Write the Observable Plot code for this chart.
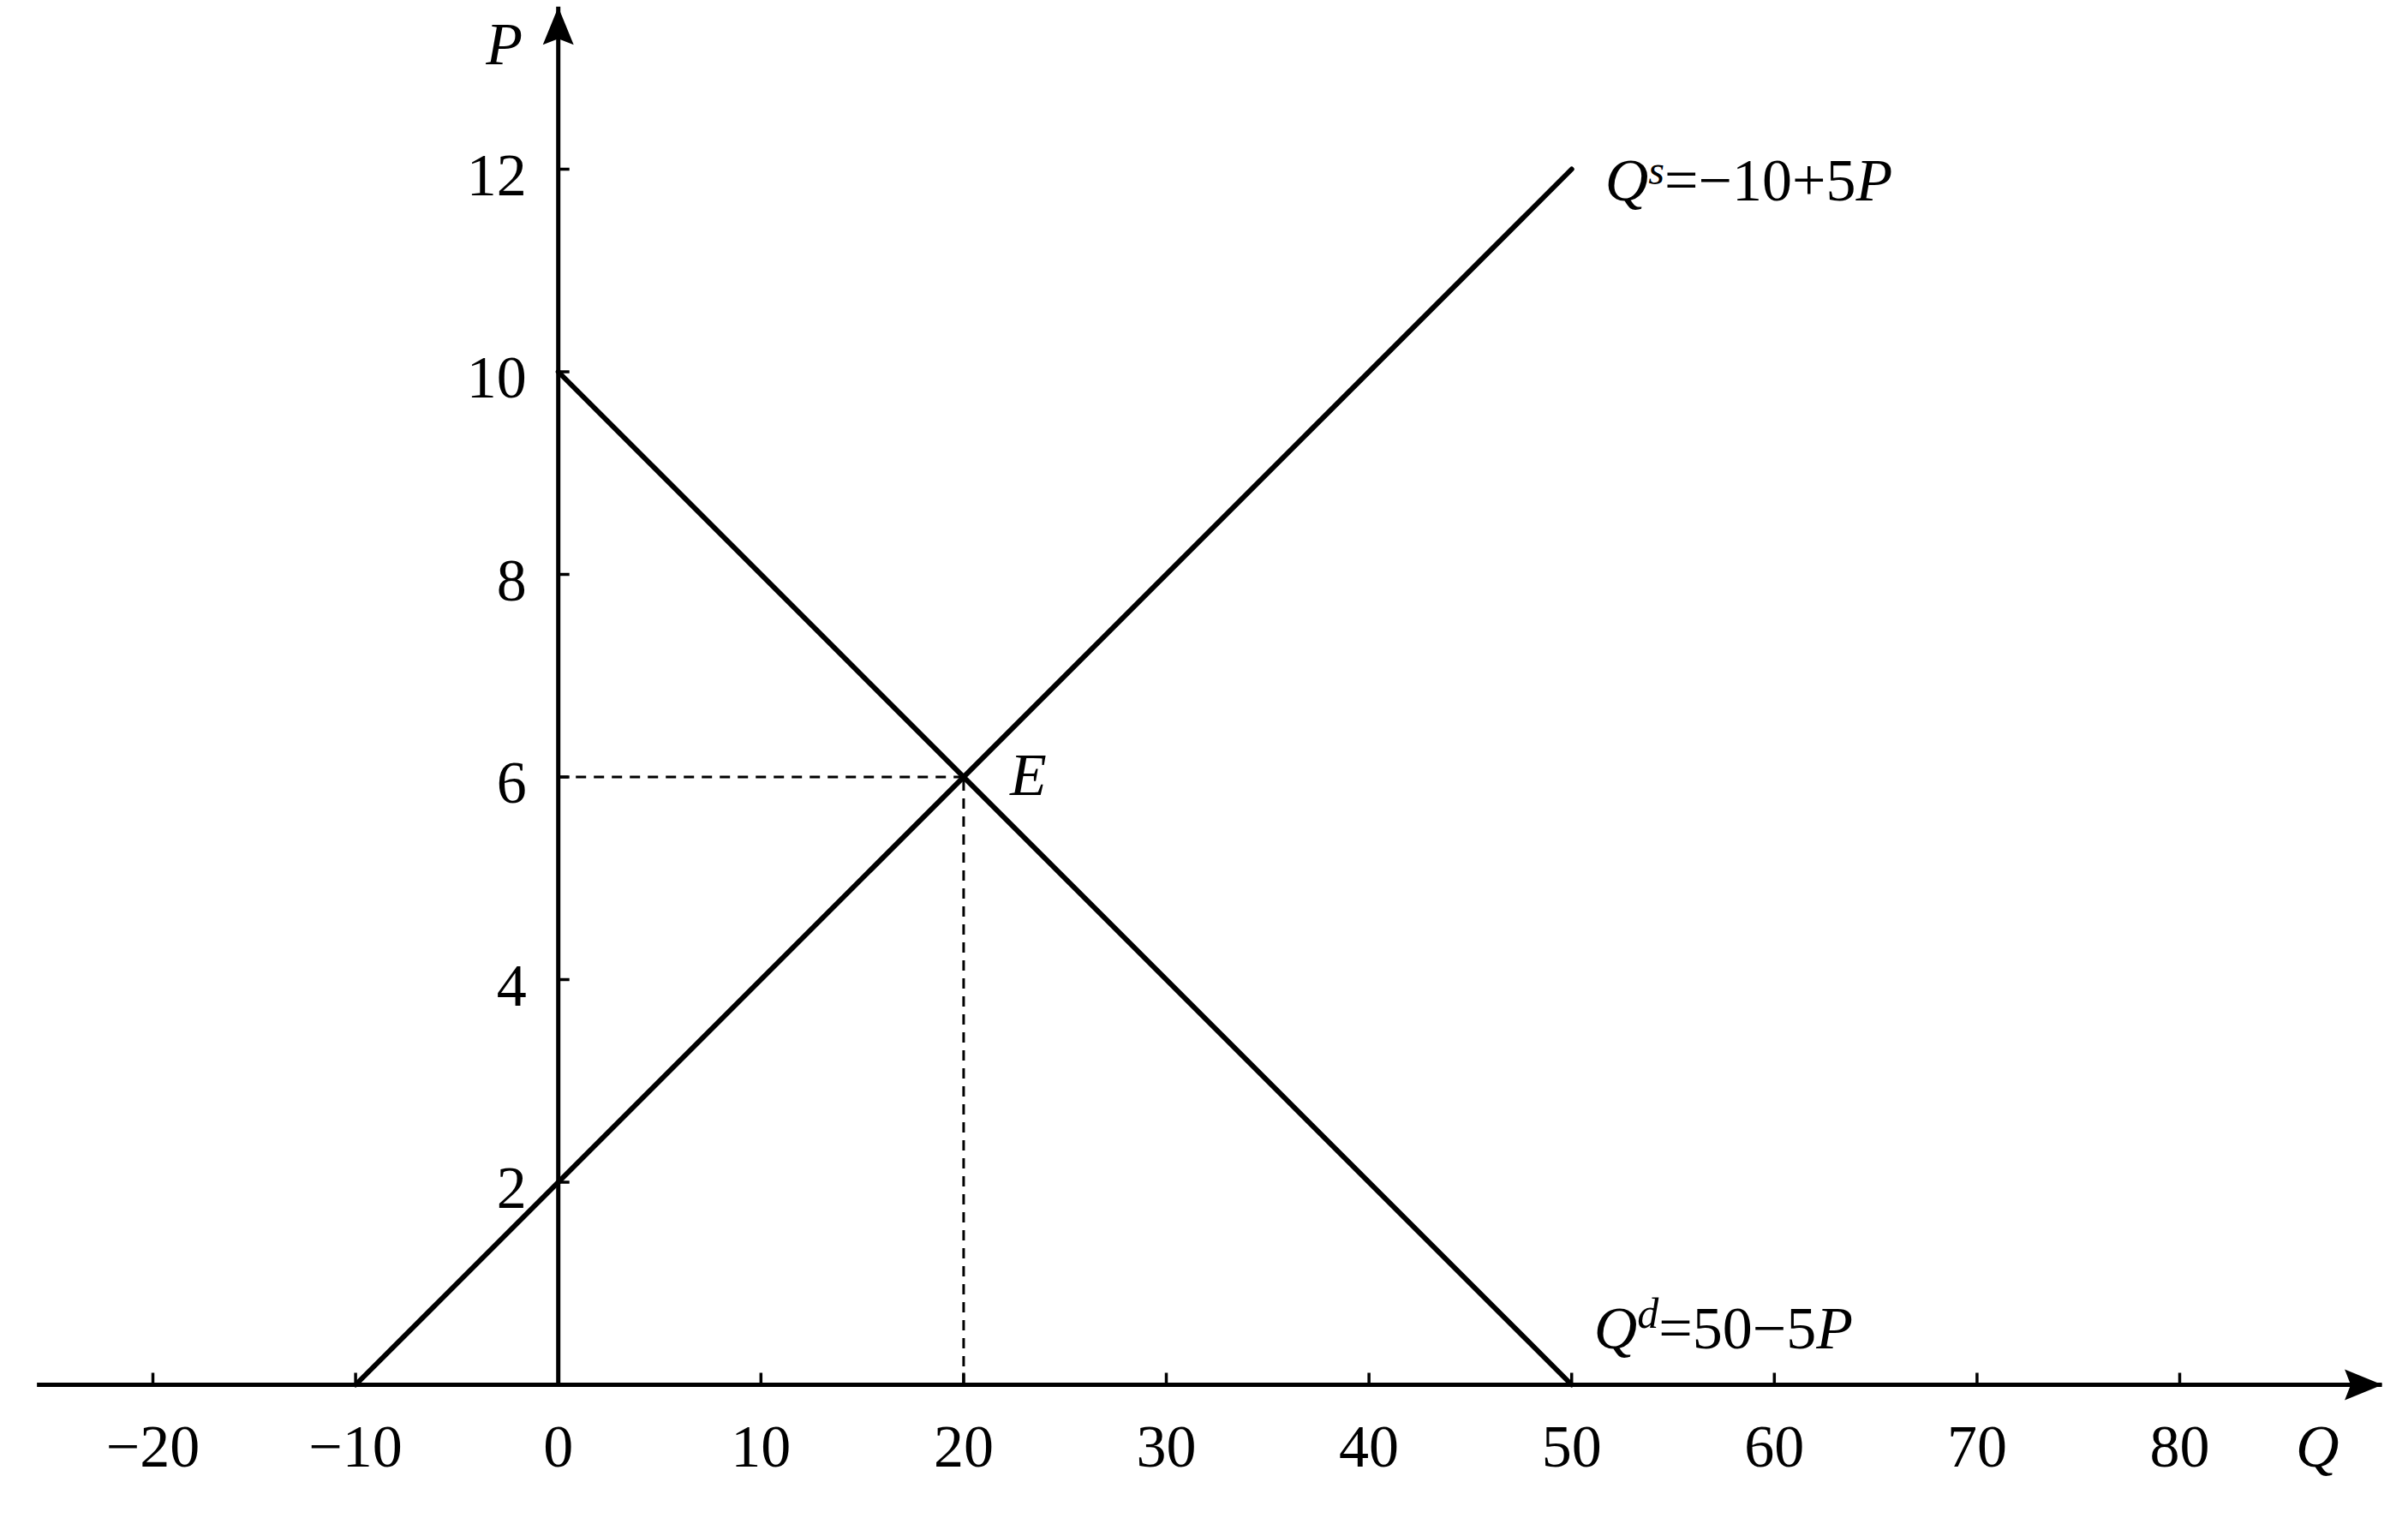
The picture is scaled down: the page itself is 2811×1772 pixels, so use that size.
<!DOCTYPE html>
<html>
<head>
<meta charset="utf-8">
<script src="https://cdn.jsdelivr.net/npm/d3@7"></script>
<script src="https://cdn.jsdelivr.net/npm/@observablehq/plot@0.6"></script>
<style>
html, body { margin: 0; padding: 0; background: #fff; }
svg { display: block; }
</style>
</head>
<body>
<div id="chart"></div>
<script>
// ---- data ----
const qTickValues = [-20, -10, 10, 20, 30, 40, 50, 60, 70, 80];
const qLabelValues = [-20, -10, 0, 10, 20, 30, 40, 50, 60, 70, 80];
const qLabelTexts = ["−20", "−10", "0", "10", "20", "30", "40", "50", "60", "70", "80"];
const pTickValues = [2, 4, 6, 8, 10, 12];
const pLabelTexts = ["2", "4", "6", "8", "10", "12"];

const supplyQ = [-10, 50];
const supplyP = [0, 12];
const demandQ = [0, 50];
const demandP = [10, 0];
const eqQ = 20;
const eqP = 6;

const qAxisExtent = [-25.7, 90];
const pAxisExtent = [0, 13.6];

const supplyLabel = [{t: "Q", i: true}, {t: "s", i: true, sup: true, size: 48, raise: 19}, {t: "=−10+5"}, {t: "P", i: true}];
const demandLabel = [{t: "Q", i: true}, {t: "d", i: true, sup: true, size: 50, raise: 24}, {t: "=50−5"}, {t: "P", i: true}];

// ---- derived tables ----
const supply = supplyQ.map((q, i) => ({q, p: supplyP[i]}));
const demand = demandQ.map((q, i) => ({q, p: demandP[i]}));
const joinParts = parts => parts.map(d => d.t).join("");
const richLabels = new Map([[joinParts(supplyLabel), supplyLabel], [joinParts(demandLabel), demandLabel]]);

// symbols
const arrowHead = {
  draw(ctx) {
    ctx.moveTo(0, 0);
    ctx.lineTo(18, 44);
    ctx.lineTo(0, 37);
    ctx.lineTo(-18, 44);
    ctx.closePath();
  }
};
const tickUp = { draw(ctx) { ctx.moveTo(0, 0); ctx.lineTo(0, -14); } };
const tickRight = { draw(ctx) { ctx.moveTo(0, 0); ctx.lineTo(13, 0); } };

const FONT = "'Liberation Serif', 'Times New Roman', serif";
const FS = 70;

const chart = Plot.plot({
  width: 2811,
  height: 1772,
  marginLeft: 178,
  marginRight: 267,
  marginTop: 197,
  marginBottom: 156,
  x: {type: "linear", domain: [-20, 80], axis: null},
  y: {type: "linear", domain: [0, 12], axis: null},
  style: {background: "#fff", fontFamily: FONT},
  marks: [
    // axes lines
    Plot.ruleY([0], {x1: qAxisExtent[0], x2: qAxisExtent[1], stroke: "black", strokeWidth: 5}),
    Plot.ruleX([0], {y1: pAxisExtent[0], y2: pAxisExtent[1], stroke: "black", strokeWidth: 5}),
    Plot.dot([0], {x: qAxisExtent[1], y: 0, symbol: arrowHead, rotate: 90, fill: "black", stroke: "none"}),
    Plot.dot([0], {x: 0, y: pAxisExtent[1], symbol: arrowHead, fill: "black", stroke: "none"}),
    // ticks
    Plot.dot(qTickValues, {x: d => d, y: 0, symbol: tickUp, stroke: "black", strokeWidth: 3.5, fill: "none"}),
    Plot.dot(pTickValues, {x: 0, y: d => d, symbol: tickRight, stroke: "black", strokeWidth: 3.5, fill: "none"}),
    // dashed guides
    Plot.ruleY([eqP], {x1: 0, x2: eqQ, stroke: "black", strokeWidth: 3, strokeDasharray: "12,9"}),
    Plot.ruleX([eqQ], {y1: 0, y2: eqP, stroke: "black", strokeWidth: 3, strokeDasharray: "12,9"}),
    // curves
    Plot.line(supply, {x: "q", y: "p", stroke: "black", strokeWidth: 6}),
    Plot.line(demand, {x: "q", y: "p", stroke: "black", strokeWidth: 6}),
    // tick labels
    Plot.text(qLabelValues, {x: d => d, y: 0, text: (d, i) => qLabelTexts[i], dy: 73, lineAnchor: "middle", fontSize: FS, fill: "black"}),
    Plot.text(pTickValues, {x: 0, y: d => d, text: (d, i) => pLabelTexts[i], textAnchor: "end", dx: -37, dy: 8, lineAnchor: "middle", fontSize: FS, fill: "black"}),
    // axis titles
    Plot.text(["P"], {x: 0, frameAnchor: "top", text: d => d, dx: -63, dy: -145, lineAnchor: "middle", fontSize: FS, fontStyle: "italic", fill: "black"}),
    Plot.text(["Q"], {frameAnchor: "bottom-right", text: d => d, dx: 186, dy: 73, lineAnchor: "middle", fontSize: FS, fontStyle: "italic", fill: "black"}),
    // curve labels
    Plot.text([joinParts(supplyLabel)], {x: supplyQ[1], y: supplyP[1], text: d => d, textAnchor: "start", lineAnchor: "bottom", dx: 39, dy: 36, fontSize: FS, fill: "black"}),
    Plot.text([joinParts(demandLabel)], {x: demandQ[1], y: demandP[1], text: d => d, textAnchor: "start", lineAnchor: "bottom", dx: 26, dy: -43, fontSize: FS, fill: "black"}),
    Plot.text(["E"], {x: eqQ, y: eqP, text: d => d, textAnchor: "start", lineAnchor: "bottom", dx: 54, dy: 21, fontSize: FS, fontStyle: "italic", fill: "black"})
  ]
});

// rich text for curve labels
chart.querySelectorAll("text").forEach(el => {
  const parts = richLabels.get(el.textContent);
  if (!parts) return;
  el.textContent = "";
  let shift = 0;
  parts.forEach(p => {
    const ts = document.createElementNS("http://www.w3.org/2000/svg", "tspan");
    ts.textContent = p.t;
    if (p.i) ts.setAttribute("font-style", "italic");
    const target = p.sup ? -p.raise : 0;
    if (target !== shift) { ts.setAttribute("dy", (target - shift) + "px"); shift = target; }
    if (p.sup) ts.setAttribute("font-size", p.size + "px");
    el.appendChild(ts);
  });
});

document.getElementById("chart").appendChild(chart);
</script>
</body>
</html>
